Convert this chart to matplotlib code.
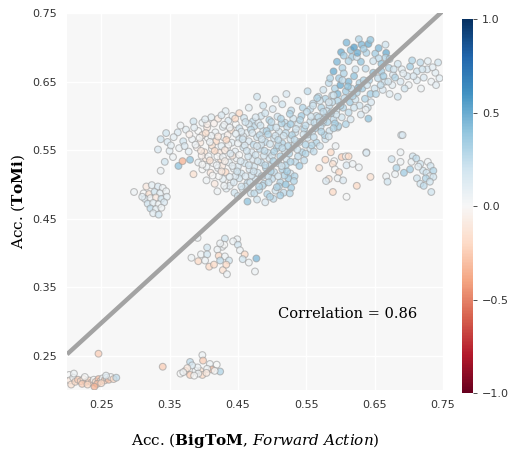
import numpy as np
import matplotlib
matplotlib.use("Agg")
import matplotlib.pyplot as plt
from matplotlib import cm, colors

# (BigToM acc, ToMi acc, correlation value) per cluster
cluster_top = [
    (0.609, 0.707, 0.45), (0.601, 0.693, 0.5), (0.595, 0.679, 0.45), (0.615, 0.696, 0.4),
    (0.617, 0.686, 0.35), (0.627, 0.712, 0.3), (0.631, 0.704, 0.45), (0.641, 0.705, 0.5),
    (0.638, 0.692, 0.3), (0.651, 0.691, 0.35), (0.656, 0.699, 0.45), (0.666, 0.704, 0.2),
    (0.667, 0.692, 0.5), (0.630, 0.679, 0.4), (0.612, 0.680, 0.3), (0.624, 0.686, 0.2),
    (0.644, 0.711, 0.4), (0.666, 0.685, 0.3), (0.656, 0.684, 0.25), (0.620, 0.700, 0.55),
    (0.648, 0.680, 0.2), (0.637, 0.669, 0.25), (0.603, 0.670, 0.3), (0.622, 0.668, 0.2),
    (0.743, 0.678, 0.2), (0.739, 0.663, 0.1), (0.727, 0.668, 0.15), (0.717, 0.678, 0.25),
    (0.712, 0.665, 0.2), (0.702, 0.672, 0.35), (0.698, 0.658, 0.15), (0.690, 0.668, 0.1),
    (0.684, 0.676, 0.2), (0.677, 0.660, 0.15), (0.671, 0.670, 0.3), (0.665, 0.650, 0.2),
    (0.660, 0.665, 0.35), (0.655, 0.655, 0.25), (0.648, 0.663, 0.4), (0.642, 0.652, 0.3),
    (0.676, 0.645, 0.1), (0.688, 0.650, 0.15), (0.700, 0.645, 0.05), (0.712, 0.652, 0.1),
    (0.722, 0.656, 0.15), (0.733, 0.650, 0.05), (0.745, 0.655, 0.1), (0.705, 0.681, 0.3),
    (0.728, 0.680, 0.1), (0.694, 0.640, 0.2), (0.662, 0.638, 0.15), (0.650, 0.640, 0.2),
    (0.672, 0.632, 0.1), (0.684, 0.628, 0.2), (0.718, 0.640, 0.05), (0.740, 0.645, 0.1),
    (0.590, 0.665, 0.5), (0.598, 0.655, 0.35), (0.605, 0.662, 0.3), (0.612, 0.650, 0.45),
    (0.620, 0.658, 0.4), (0.628, 0.648, 0.3), (0.583, 0.648, 0.25), (0.592, 0.640, 0.3),
    (0.600, 0.645, 0.5), (0.608, 0.636, 0.35), (0.616, 0.640, 0.25), (0.624, 0.634, 0.3),
    (0.632, 0.640, 0.35), (0.575, 0.638, 0.2), (0.568, 0.628, 0.25), (0.578, 0.625, 0.3),
    (0.588, 0.630, 0.2), (0.596, 0.622, 0.3), (0.606, 0.626, 0.25), (0.614, 0.620, 0.35),
    (0.622, 0.624, 0.2), (0.560, 0.618, 0.25), (0.572, 0.612, 0.3), (0.584, 0.615, 0.25),
    (0.594, 0.608, 0.2), (0.604, 0.612, 0.3), (0.612, 0.605, 0.25), (0.565, 0.600, 0.2),
    (0.578, 0.598, 0.3), (0.590, 0.595, 0.25), (0.602, 0.598, 0.2), (0.608, 0.588, 0.3),
    (0.615, 0.595, 0.15), (0.596, 0.583, 0.2), (0.575, 0.590, 0.25), (0.628, 0.615, 0.2),
    (0.636, 0.625, 0.3), (0.640, 0.612, 0.2), (0.644, 0.632, 0.35), (0.630, 0.602, 0.15),
    (0.641, 0.596, 0.4), (0.637, 0.609, 0.05), (0.689, 0.572, 0.15), (0.638, 0.547, 0.1),
    (0.585, 0.655, 0.3), (0.596, 0.632, 0.45), (0.603, 0.652, 0.25), (0.611, 0.643, 0.4),
    (0.618, 0.629, 0.3), (0.626, 0.641, 0.45), (0.634, 0.652, 0.3), (0.639, 0.645, 0.2),
    (0.645, 0.620, 0.15), (0.652, 0.632, 0.3), (0.659, 0.645, 0.25), (0.663, 0.658, 0.35),
    (0.670, 0.650, 0.2), (0.680, 0.656, 0.3), (0.692, 0.662, 0.1), (0.707, 0.658, 0.15),
    (0.720, 0.668, 0.2), (0.735, 0.671, 0.1), (0.580, 0.607, 0.2), (0.588, 0.620, 0.25),
    (0.600, 0.615, 0.3), (0.570, 0.622, 0.2), (0.556, 0.610, 0.25), (0.620, 0.612, 0.2),
    (0.625, 0.692, 0.5), (0.634, 0.698, 0.35), (0.660, 0.676, 0.4), (0.605, 0.688, 0.35),
    (0.672, 0.683, 0.3), (0.678, 0.668, 0.2),
]

cluster_main = [
    (0.478, 0.628, 0.2), (0.521, 0.632, 0.15), (0.552, 0.636, 0.25), (0.538, 0.622, 0.2),
    (0.566, 0.626, 0.3), (0.590, 0.630, 0.2), (0.505, 0.624, 0.1),
    (0.452, 0.604, -0.2), (0.466, 0.612, 0.1), (0.487, 0.615, 0.2), (0.501, 0.610, 0.15),
    (0.515, 0.617, 0.2), (0.528, 0.608, 0.25), (0.545, 0.612, 0.3), (0.560, 0.615, 0.2),
    (0.575, 0.606, 0.25), (0.432, 0.607, 0.1), (0.583, 0.620, 0.15),
    (0.385, 0.592, 0.2), (0.398, 0.590, 0.05), (0.411, 0.598, 0.1), (0.421, 0.596, -0.1),
    (0.436, 0.593, 0.15), (0.447, 0.588, 0.0), (0.459, 0.597, 0.2), (0.472, 0.592, 0.25),
    (0.484, 0.600, 0.2), (0.496, 0.594, 0.3), (0.508, 0.599, 0.2), (0.519, 0.590, 0.25),
    (0.531, 0.596, 0.2), (0.543, 0.600, 0.35), (0.556, 0.592, 0.2), (0.568, 0.598, 0.25),
    (0.581, 0.591, 0.3), (0.594, 0.602, 0.2),
    (0.362, 0.576, 0.15), (0.374, 0.580, 0.1), (0.392, 0.578, 0.0), (0.405, 0.583, -0.1),
    (0.417, 0.576, 0.05), (0.428, 0.584, 0.1), (0.440, 0.579, -0.15), (0.452, 0.582, 0.2),
    (0.463, 0.575, 0.1), (0.474, 0.585, 0.25), (0.487, 0.578, 0.2), (0.498, 0.583, 0.3),
    (0.510, 0.577, 0.2), (0.522, 0.584, 0.25), (0.534, 0.576, 0.2), (0.547, 0.581, 0.3),
    (0.559, 0.577, 0.2), (0.571, 0.584, 0.25), (0.584, 0.578, 0.2), (0.597, 0.585, 0.3),
    (0.337, 0.566, 0.2), (0.347, 0.562, 0.15), (0.356, 0.569, 0.1), (0.370, 0.563, 0.2),
    (0.383, 0.566, 0.05), (0.395, 0.561, -0.1), (0.406, 0.568, 0.0), (0.418, 0.563, -0.2),
    (0.429, 0.569, 0.05), (0.441, 0.561, 0.1), (0.452, 0.567, 0.2), (0.466, 0.563, 0.15),
    (0.478, 0.569, 0.2), (0.490, 0.562, 0.25), (0.503, 0.567, 0.2), (0.515, 0.560, 0.3),
    (0.527, 0.566, 0.2), (0.540, 0.562, 0.25), (0.552, 0.568, 0.2), (0.565, 0.561, 0.3),
    (0.578, 0.566, 0.2),
    (0.333, 0.551, 0.15), (0.350, 0.549, 0.1), (0.364, 0.553, 0.05), (0.378, 0.548, 0.1),
    (0.390, 0.554, -0.05), (0.401, 0.547, -0.15), (0.412, 0.552, 0.0), (0.423, 0.546, -0.1),
    (0.434, 0.553, 0.05), (0.446, 0.548, 0.1), (0.458, 0.554, 0.2), (0.470, 0.547, 0.15),
    (0.482, 0.552, 0.25), (0.494, 0.546, 0.2), (0.507, 0.553, 0.3), (0.519, 0.548, 0.2),
    (0.531, 0.554, 0.25), (0.544, 0.547, 0.3), (0.556, 0.552, 0.2),
    (0.363, 0.527, 0.4), (0.369, 0.534, -0.35), (0.380, 0.536, 0.4), (0.392, 0.532, 0.05),
    (0.403, 0.538, -0.1), (0.414, 0.531, 0.0), (0.425, 0.537, -0.15), (0.437, 0.532, 0.1),
    (0.448, 0.538, 0.05), (0.460, 0.531, 0.2), (0.472, 0.537, 0.15), (0.484, 0.532, 0.25),
    (0.496, 0.538, 0.2), (0.509, 0.531, 0.3), (0.521, 0.537, 0.2), (0.534, 0.533, 0.25),
    (0.337, 0.520, 0.05), (0.385, 0.515, -0.15), (0.398, 0.522, 0.0), (0.410, 0.517, -0.1),
    (0.421, 0.524, 0.05), (0.432, 0.518, -0.2), (0.444, 0.523, 0.1), (0.455, 0.516, 0.2),
    (0.467, 0.522, 0.15), (0.479, 0.517, 0.2), (0.491, 0.524, 0.3), (0.503, 0.518, 0.25),
    (0.515, 0.522, 0.3), (0.527, 0.516, 0.2),
    (0.404, 0.506, 0.05), (0.416, 0.501, -0.1), (0.428, 0.508, 0.1), (0.440, 0.503, 0.0),
    (0.452, 0.509, 0.2), (0.464, 0.502, 0.25), (0.476, 0.507, 0.2), (0.488, 0.501, 0.3),
    (0.500, 0.508, 0.25), (0.512, 0.503, 0.3), (0.524, 0.509, 0.35),
    (0.420, 0.490, 0.05), (0.433, 0.494, 0.1), (0.445, 0.488, 0.2), (0.457, 0.493, 0.15),
    (0.469, 0.487, 0.2), (0.481, 0.492, 0.25), (0.493, 0.486, 0.3), (0.505, 0.491, 0.2),
    (0.517, 0.488, 0.25),
    (0.464, 0.475, 0.4), (0.478, 0.478, 0.2), (0.490, 0.474, 0.15), (0.502, 0.479, 0.25),
    (0.442, 0.600, 0.1), (0.490, 0.604, 0.2), (0.526, 0.603, 0.3), (0.551, 0.606, 0.25),
    (0.405, 0.588, -0.05), (0.430, 0.587, 0.05), (0.466, 0.588, 0.2), (0.480, 0.590, 0.15),
    (0.514, 0.589, 0.3), (0.538, 0.588, 0.2), (0.562, 0.590, 0.25), (0.575, 0.594, 0.2),
    (0.398, 0.572, -0.1), (0.411, 0.571, 0.05), (0.435, 0.572, -0.05), (0.458, 0.570, 0.1),
    (0.482, 0.572, 0.25), (0.505, 0.571, 0.2), (0.529, 0.572, 0.3), (0.552, 0.573, 0.25),
    (0.577, 0.572, 0.3),
    (0.388, 0.558, 0.05), (0.412, 0.557, -0.15), (0.436, 0.558, 0.0), (0.460, 0.557, 0.15),
    (0.484, 0.558, 0.2), (0.509, 0.557, 0.25), (0.533, 0.558, 0.2), (0.558, 0.557, 0.3),
    (0.397, 0.542, -0.05), (0.420, 0.541, 0.0), (0.442, 0.542, -0.1), (0.465, 0.541, 0.2),
    (0.488, 0.542, 0.2), (0.512, 0.541, 0.3), (0.538, 0.541, 0.25),
    (0.404, 0.526, 0.05), (0.427, 0.527, -0.1), (0.450, 0.526, 0.15), (0.474, 0.526, 0.2),
    (0.497, 0.527, 0.25), (0.520, 0.528, 0.3),
    (0.422, 0.512, 0.0), (0.446, 0.512, 0.15), (0.470, 0.513, 0.2), (0.494, 0.512, 0.25),
    (0.518, 0.513, 0.3),
    (0.438, 0.498, 0.1), (0.462, 0.497, 0.2), (0.486, 0.498, 0.25), (0.510, 0.497, 0.3),
    (0.528, 0.495, 0.35),
]

cluster_main_fill = [
    (0.402, 0.595, 0.1), (0.415, 0.589, -0.05), (0.426, 0.601, 0.15), (0.438, 0.583, 0.05),
    (0.446, 0.596, -0.2), (0.455, 0.577, 0.15), (0.461, 0.591, 0.2), (0.469, 0.580, 0.25),
    (0.476, 0.598, 0.15), (0.483, 0.586, 0.2), (0.492, 0.578, 0.3), (0.499, 0.591, 0.25),
    (0.506, 0.583, 0.2), (0.513, 0.596, 0.3), (0.520, 0.575, 0.25), (0.527, 0.588, 0.35),
    (0.535, 0.581, 0.2), (0.541, 0.594, 0.3), (0.549, 0.586, 0.25), (0.557, 0.599, 0.2),
    (0.563, 0.582, 0.3), (0.570, 0.591, 0.25), (0.586, 0.604, 0.3), (0.592, 0.589, 0.35),
    (0.394, 0.568, 0.0), (0.403, 0.575, -0.15), (0.409, 0.562, 0.05), (0.421, 0.570, -0.1),
    (0.426, 0.556, 0.1), (0.433, 0.565, -0.2), (0.447, 0.574, 0.1), (0.450, 0.560, 0.05),
    (0.457, 0.566, 0.2), (0.471, 0.575, 0.15), (0.473, 0.558, 0.25), (0.485, 0.566, 0.2),
    (0.494, 0.573, 0.3), (0.497, 0.559, 0.2), (0.509, 0.565, 0.25), (0.517, 0.571, 0.2),
    (0.523, 0.556, 0.3), (0.533, 0.565, 0.25), (0.546, 0.573, 0.2), (0.549, 0.558, 0.3),
    (0.561, 0.569, 0.25), (0.572, 0.577, 0.3), (0.583, 0.570, 0.2), (0.590, 0.582, 0.3),
    (0.396, 0.549, -0.1), (0.407, 0.541, 0.0), (0.416, 0.549, -0.2), (0.428, 0.540, 0.05),
    (0.431, 0.550, -0.1), (0.439, 0.545, 0.15), (0.452, 0.543, 0.0), (0.463, 0.549, 0.2),
    (0.476, 0.543, 0.2), (0.478, 0.556, 0.15), (0.489, 0.549, 0.25), (0.500, 0.542, 0.2),
    (0.503, 0.548, 0.3), (0.515, 0.553, 0.25), (0.525, 0.545, 0.3), (0.537, 0.551, 0.2),
    (0.549, 0.545, 0.3), (0.561, 0.548, 0.25), (0.570, 0.556, 0.2),
    (0.398, 0.529, 0.0), (0.409, 0.535, -0.15), (0.419, 0.528, 0.05), (0.431, 0.534, -0.05),
    (0.442, 0.527, 0.1), (0.454, 0.534, 0.15), (0.466, 0.528, 0.2), (0.479, 0.534, 0.2),
    (0.490, 0.528, 0.25), (0.502, 0.534, 0.3), (0.514, 0.527, 0.2), (0.527, 0.533, 0.3),
    (0.540, 0.527, 0.35), (0.547, 0.535, 0.25),
    (0.413, 0.513, 0.0), (0.426, 0.519, -0.1), (0.438, 0.511, 0.1), (0.449, 0.519, 0.2),
    (0.461, 0.512, 0.15), (0.473, 0.519, 0.2), (0.485, 0.512, 0.25), (0.498, 0.519, 0.3),
    (0.509, 0.512, 0.2), (0.522, 0.519, 0.35), (0.533, 0.512, 0.3),
    (0.430, 0.498, 0.05), (0.444, 0.503, 0.15), (0.455, 0.497, 0.2), (0.468, 0.503, 0.2),
    (0.481, 0.497, 0.3), (0.495, 0.503, 0.25), (0.507, 0.496, 0.3), (0.520, 0.500, 0.4),
    (0.532, 0.505, 0.3),
    (0.450, 0.483, 0.2), (0.474, 0.487, 0.25), (0.497, 0.482, 0.3), (0.512, 0.484, 0.35),
    (0.526, 0.487, 0.3),
    (0.345, 0.575, 0.2), (0.352, 0.557, 0.1), (0.366, 0.586, 0.05), (0.372, 0.556, 0.15),
    (0.379, 0.573, -0.05), (0.386, 0.583, 0.1), (0.355, 0.540, 0.05), (0.343, 0.533, 0.2),
]

cluster_left = [
    (0.298, 0.489, 0.05), (0.316, 0.497, -0.1), (0.324, 0.499, 0.1), (0.333, 0.497, 0.15),
    (0.340, 0.495, 0.05), (0.312, 0.487, 0.0), (0.320, 0.486, -0.15), (0.328, 0.489, 0.2),
    (0.336, 0.487, 0.1), (0.345, 0.490, 0.05), (0.314, 0.479, 0.15), (0.322, 0.480, 0.05),
    (0.330, 0.481, -0.1), (0.338, 0.479, 0.2), (0.346, 0.482, 0.1), (0.318, 0.472, 0.2),
    (0.326, 0.473, 0.1), (0.334, 0.471, 0.05), (0.342, 0.474, 0.15), (0.322, 0.465, 0.25),
    (0.330, 0.464, 0.1), (0.338, 0.466, 0.05), (0.326, 0.458, 0.1), (0.334, 0.456, 0.2),
    (0.310, 0.482, 0.1),
]

cluster_mid_right = [
    (0.586, 0.547, -0.2), (0.593, 0.556, 0.05), (0.578, 0.536, -0.2), (0.591, 0.534, 0.0),
    (0.602, 0.540, -0.25), (0.608, 0.541, 0.0), (0.612, 0.541, -0.2), (0.589, 0.530, -0.15),
    (0.609, 0.528, 0.15), (0.618, 0.530, 0.05), (0.627, 0.525, 0.05), (0.569, 0.524, -0.15),
    (0.592, 0.522, 0.0), (0.598, 0.518, -0.2), (0.596, 0.509, 0.05), (0.583, 0.508, -0.15),
    (0.579, 0.505, 0.15), (0.604, 0.506, 0.15), (0.644, 0.511, -0.15), (0.624, 0.498, -0.2),
    (0.589, 0.489, -0.2), (0.609, 0.482, 0.0), (0.638, 0.546, 0.15), (0.691, 0.572, 0.15),
]

cluster_far_right = [
    (0.675, 0.537, 0.2), (0.688, 0.547, 0.05), (0.688, 0.533, 0.05), (0.682, 0.524, 0.3),
    (0.680, 0.515, 0.05), (0.693, 0.517, 0.35), (0.702, 0.522, 0.35), (0.706, 0.541, 0.2),
    (0.704, 0.533, 0.05), (0.711, 0.538, 0.25), (0.717, 0.530, 0.2), (0.721, 0.520, 0.2),
    (0.728, 0.533, 0.05), (0.732, 0.527, 0.2), (0.736, 0.520, 0.3), (0.726, 0.517, 0.2),
    (0.731, 0.512, 0.05), (0.725, 0.509, 0.3), (0.736, 0.511, 0.2), (0.712, 0.509, 0.2),
    (0.731, 0.504, 0.2), (0.717, 0.501, 0.2), (0.722, 0.498, 0.25), (0.667, 0.512, 0.05),
    (0.669, 0.504, 0.2), (0.733, 0.489, 0.2), (0.714, 0.526, 0.1),
]

cluster_low_mid = [
    (0.391, 0.422, 0.05), (0.431, 0.421, 0.2), (0.449, 0.420, 0.05), (0.443, 0.417, 0.05),
    (0.450, 0.412, 0.2), (0.405, 0.408, 0.2), (0.427, 0.409, 0.05), (0.430, 0.412, 0.0),
    (0.420, 0.405, 0.05), (0.453, 0.404, 0.05), (0.396, 0.398, 0.05), (0.405, 0.398, 0.2),
    (0.382, 0.393, 0.05), (0.392, 0.388, -0.2), (0.402, 0.389, 0.05), (0.422, 0.396, -0.2),
    (0.431, 0.395, 0.05), (0.424, 0.389, 0.25), (0.437, 0.389, 0.2), (0.460, 0.398, -0.2),
    (0.457, 0.391, 0.2), (0.466, 0.386, 0.05), (0.477, 0.392, 0.45), (0.408, 0.380, -0.2),
    (0.415, 0.383, -0.2), (0.428, 0.375, -0.15), (0.433, 0.383, -0.2), (0.434, 0.369, 0.05),
    (0.475, 0.373, 0.05), (0.424, 0.414, 0.05),
]

cluster_bottom_mid = [
    (0.398, 0.251, 0.05), (0.380, 0.241, 0.25), (0.399, 0.243, -0.25), (0.409, 0.238, 0.05),
    (0.419, 0.237, 0.0), (0.424, 0.227, 0.3), (0.412, 0.230, -0.3), (0.405, 0.231, 0.05),
    (0.395, 0.228, -0.15), (0.388, 0.228, 0.05), (0.373, 0.228, -0.2), (0.366, 0.224, 0.0),
    (0.380, 0.222, -0.25), (0.398, 0.222, -0.2), (0.391, 0.233, 0.05), (0.383, 0.236, 0.15),
    (0.376, 0.232, -0.1), (0.416, 0.228, 0.0), (0.392, 0.224, 0.05), (0.404, 0.225, -0.1),
    (0.386, 0.221, 0.0), (0.370, 0.226, 0.05), (0.340, 0.234, -0.25),
]

cluster_bottom_left = [
    (0.203, 0.222, 0.0), (0.204, 0.214, -0.1), (0.206, 0.208, -0.15), (0.209, 0.218, 0.05),
    (0.212, 0.212, -0.2), (0.216, 0.215, -0.25), (0.220, 0.213, -0.2), (0.224, 0.216, -0.15),
    (0.228, 0.212, -0.3), (0.232, 0.214, -0.2), (0.236, 0.211, -0.25), (0.239, 0.215, 0.0),
    (0.242, 0.212, -0.2), (0.246, 0.216, -0.3), (0.249, 0.213, -0.15), (0.252, 0.217, 0.05),
    (0.255, 0.214, -0.25), (0.258, 0.218, 0.1), (0.261, 0.215, -0.3), (0.264, 0.219, 0.0),
    (0.268, 0.216, -0.2), (0.272, 0.218, 0.25), (0.222, 0.209, -0.25), (0.230, 0.208, -0.2),
    (0.244, 0.209, -0.3), (0.250, 0.210, -0.2), (0.240, 0.205, -0.35), (0.257, 0.221, 0.1),
    (0.210, 0.224, 0.05), (0.226, 0.219, 0.0), (0.246, 0.253, -0.25),
]

# fitted line as it appears in the figure
fit_slope = 0.911
fit_intercept = 0.070
correlation = 0.86

ticks = [0.25, 0.35, 0.45, 0.55, 0.65, 0.75]

plt.rcParams['mathtext.fontset'] = 'custom'
plt.rcParams['mathtext.rm'] = 'DejaVu Serif'
plt.rcParams['mathtext.bf'] = 'DejaVu Serif:bold'
plt.rcParams['mathtext.it'] = 'DejaVu Serif:italic'

pts = np.array(cluster_top + cluster_main + cluster_main_fill + cluster_left
               + cluster_mid_right + cluster_far_right + cluster_low_mid
               + cluster_bottom_mid + cluster_bottom_left)

cmap = matplotlib.colormaps['RdBu']
norm = colors.Normalize(vmin=-1, vmax=1)
face = cmap(norm(pts[:, 2]))
face[:, 3] = 0.75

fig = plt.figure(figsize=(5.12, 4.53), dpi=100)
ax = fig.add_axes([0.131, 0.139, 0.734, 0.832])
ax.set_facecolor('#f7f7f7')
for s in ax.spines.values():
    s.set_visible(False)
ax.grid(True, color='white', linewidth=1.0)
ax.set_axisbelow(True)

ax.scatter(pts[:, 0], pts[:, 1], s=24, c=face,
           edgecolors=(0.6, 0.6, 0.6, 0.6), linewidths=0.8, zorder=2)

xs = np.array([0.2, 0.75])
ax.plot(xs, fit_intercept + fit_slope * xs, color='#a3a3a3', lw=3.2, zorder=3,
        solid_capstyle='butt')

ax.set_xlim(0.2, 0.75)
ax.set_ylim(0.2, 0.75)
ax.set_xticks(ticks)
ax.set_yticks(ticks)
ax.set_xticklabels([f'{t:.2f}' for t in ticks])
ax.set_yticklabels([f'{t:.2f}' for t in ticks])
ax.tick_params(length=0, labelsize=8, pad=7, colors='#333333')

ax.text(0.508, 0.311, f'Correlation = {correlation}', family='DejaVu Serif',
        fontsize=10.5, va='center', ha='left')

ax.set_xlabel(r'Acc. ($\mathbf{BigToM}$, $\mathit{Forward\ Action}$)',
              family='DejaVu Serif', fontsize=11, labelpad=15)
ax.set_ylabel(r'Acc. ($\mathbf{ToMi}$)', family='DejaVu Serif', fontsize=11,
              labelpad=4)

cax = fig.add_axes([0.902, 0.132, 0.0215, 0.826])
sm = cm.ScalarMappable(norm=norm, cmap=cmap)
cb = fig.colorbar(sm, cax=cax, ticks=[-1.0, -0.5, 0.0, 0.5, 1.0])
cb.outline.set_visible(False)
cb.ax.tick_params(labelsize=8, length=3, width=0.6, colors='#333333')

fig.savefig('out.png', dpi=100)
